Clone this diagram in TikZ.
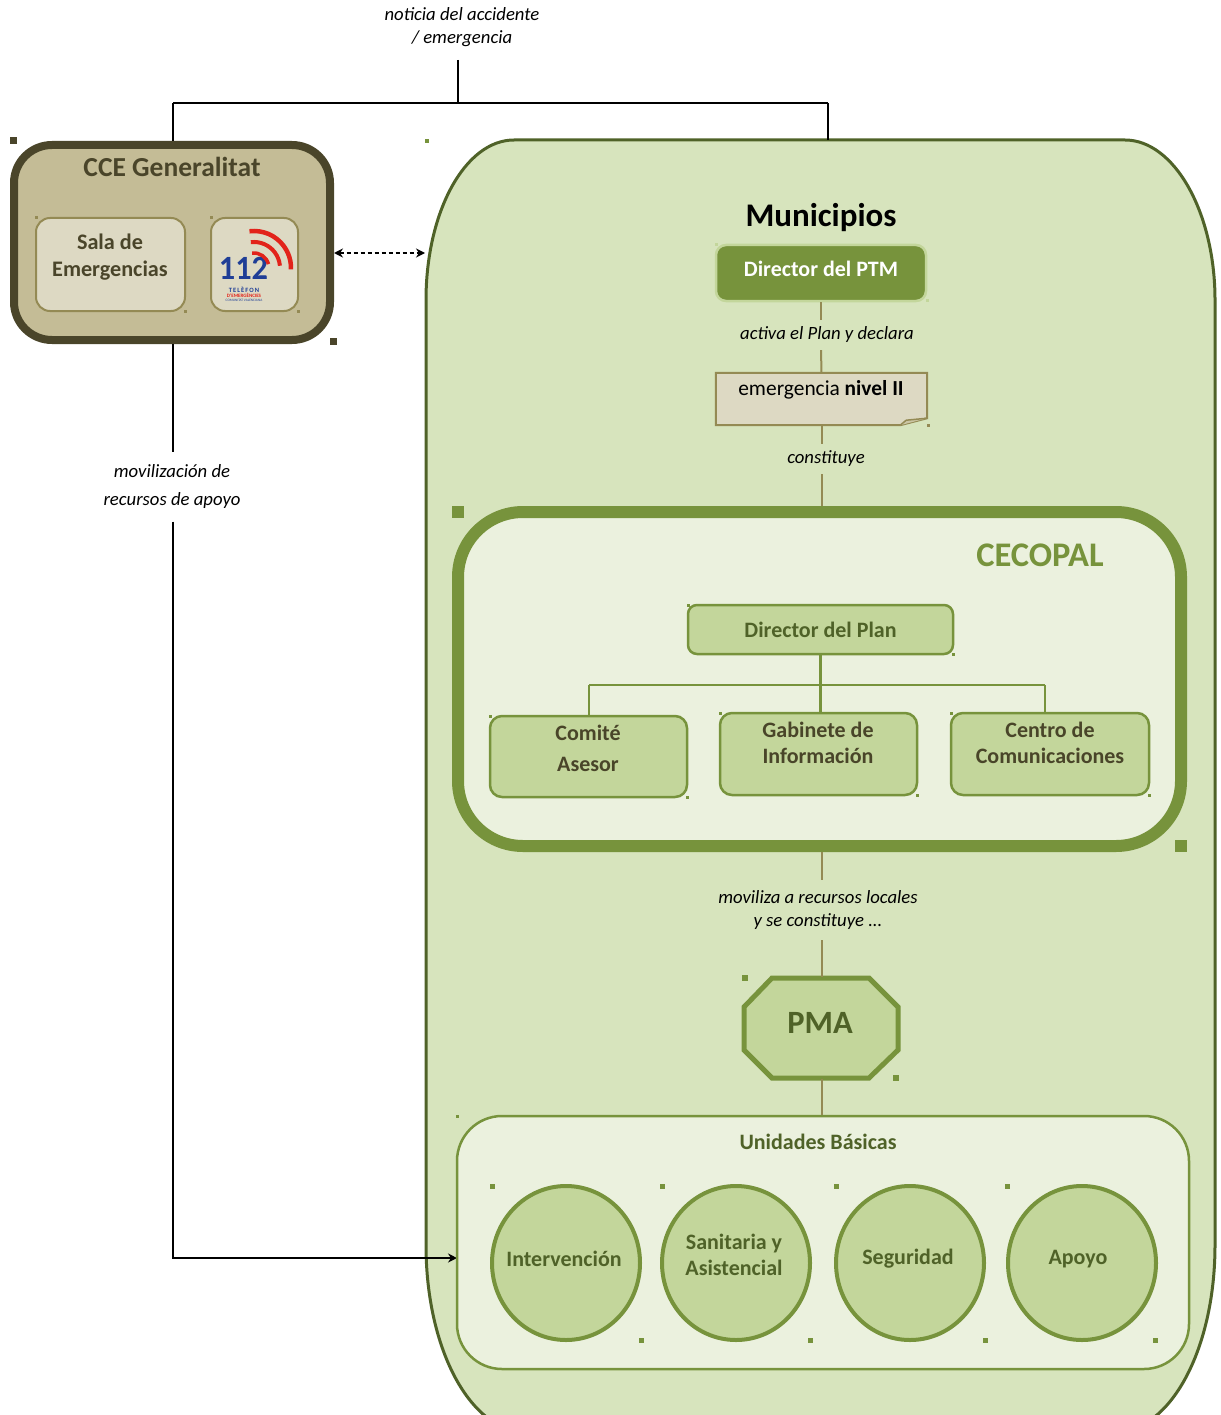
\documentclass[tikz,border=0pt]{standalone}
\usepackage{fontspec}
\setmainfont{Carlito}
\usetikzlibrary{arrows.meta,shapes.geometric}
\definecolor{cTan}{HTML}{C4BC96}
\definecolor{cDark}{HTML}{4A452A}
\definecolor{cSand}{HTML}{DDD9C3}
\definecolor{cKhaki}{HTML}{948A54}
\definecolor{cMuni}{HTML}{D7E4BD}
\definecolor{cMuniB}{HTML}{4F6228}
\definecolor{cGreen}{HTML}{77933C}
\definecolor{cLight}{HTML}{C3D69B}
\definecolor{cPale}{HTML}{EBF1DE}
\definecolor{cText}{HTML}{494529}
\definecolor{cBlue}{HTML}{1F3E96}
\definecolor{cRed}{HTML}{E2231A}
\newcommand\hnd[4]{\fill[#4] (#1,#2) ++(-0.5*#3,-0.5*#3) rectangle ++(#3,#3);}
\begin{document}
\begin{tikzpicture}[x=1pt,y=-1pt,
  lbl/.style={font=\itshape\fontsize{18.7}{23}\selectfont, align=center, inner sep=0pt, text=black},
  blackline/.style={draw=black, line width=1.8pt},
  tanline/.style={draw=cKhaki, line width=2pt},
  greenline/.style={draw=cGreen, line width=2.5pt},
  ccebox/.style={draw=cDark, fill=cTan, line width=8pt, rounded corners=38pt, minimum width=316pt, minimum height=195pt, inner sep=0pt},
  cceinner/.style={draw=cKhaki, fill=cSand, line width=2pt, rounded corners=14pt, inner sep=0pt},
  ccetext/.style={font=\bfseries\fontsize{22.2}{27}\selectfont, text=cDark, align=center, inner sep=0pt},
  orgbox/.style={draw=cGreen, fill=cLight, line width=2.5pt, rounded corners=12pt, inner sep=0pt, minimum width=197pt, minimum height=81pt},
  orgtext/.style={font=\bfseries\fontsize{22}{26}\selectfont, text=cText, align=center, inner sep=0pt},
  unit/.style={ellipse, draw=cGreen, fill=cLight, line width=4pt, minimum width=148pt, minimum height=154pt, inner sep=0pt},
  unittext/.style={font=\bfseries\fontsize{22}{26}\selectfont, text=cMuniB, align=center, inner sep=0pt},
  arr/.style={-{Stealth[length=9pt,width=9pt]}}
]
\useasboundingbox (0,0) rectangle (1220,1415);
\clip (0,0) rectangle (1220,1415);

% ---- Municipios big shape
\fill[cMuni, draw=cMuniB, line width=3pt]
  (426,300) .. controls (426,212) and (465,140) .. (514,140) -- (1125,140)
  .. controls (1174,140) and (1215,212) .. (1215,300) -- (1215,1245)
  .. controls (1215,1350) and (1170,1432) .. (1115,1432) -- (526,1432)
  .. controls (471,1432) and (426,1350) .. (426,1245) -- cycle;
\coordinate (munitop) at (828,140);
\coordinate (munileft) at (425,253);

% ---- top label and connector
\node[lbl] (noticia) at (462,27) {noticia del accidente\\/ emergencia};
\coordinate (src) at (458,60);
\coordinate (tj) at (458,103);
\coordinate (tl) at (173,103);
\coordinate (tr) at (828,103);

% ---- CCE Generalitat
\node[ccebox] (cce) at (172,242.5) {};
\node[font=\bfseries\fontsize{27.5}{30}\selectfont, text=cDark, inner sep=0pt] (ccet) at (172,167) {CCE Generalitat};
\node[cceinner, minimum width=149pt, minimum height=93pt] (sala) at (110.5,264.5) {};
\node[ccetext] (salat) at (110,257.5) {Sala de\\Emergencias};
\node[cceinner, minimum width=87pt, minimum height=93pt] (l112) at (254.5,264.5) {};
% 112 logo
\node[font=\bfseries\fontsize{34}{34}\selectfont, text=cBlue, inner sep=0pt] (n112) at (243.5,268) {\scalebox{0.95}[1]{112}};
\begin{scope}[shift={(254,268)}, y=1pt]
  \draw[cRed, line width=4.5pt] (97:37) arc[start angle=97, end angle=-2, radius=37];
  \draw[cRed, line width=4pt] (97:26) arc[start angle=97, end angle=5, radius=26];
  \draw[cRed, line width=3.5pt] (97:15) arc[start angle=97, end angle=15, radius=15];
\end{scope}
\node[font=\bfseries\fontsize{6.5}{7}\selectfont, text=cBlue, inner sep=0pt] (tel) at (244,289.5) {T\,E\,L\,È\,F\,O\,N};
\node[font=\bfseries\fontsize{5}{6}\selectfont, text=cRed, inner sep=0pt] (dem) at (244,295) {D'EMERGÈNCIES};
\node[font=\fontsize{3.5}{4}\selectfont, text=cBlue, inner sep=0pt] (cv) at (244,300) {COMUNITAT VALENCIANA};

\draw[blackline] (src) -- (tj);
\draw[blackline] (tl) -- (tr);
\draw[blackline] (tl) -- (tl |- cce.north);
\draw[blackline] (tr) -- (munitop);
\draw[black, line width=1.5pt, dash pattern=on 4pt off 3pt, {Stealth[length=9pt,width=9pt]}-{Stealth[length=9pt,width=9pt]}] (cce.east |- munileft) -- (munileft);

% ---- left connector
\node[lbl, font=\itshape\fontsize{18.7}{28}\selectfont, minimum height=69pt] (mlab) at (172,487) {movilización de\\recursos de apoyo};
\coordinate (uarr) at (457,1258);
\draw[blackline] (cce.south -| tl) -- (tl |- mlab.north);
\draw[blackline, arr] (tl |- mlab.south) |- (uarr);

% ---- Municipios content
\node[font=\bfseries\fontsize{33}{36}\selectfont, text=black, inner sep=0pt] (munt) at (821,218) {Municipios};
\node[draw=cLight, fill=cGreen, line width=2.5pt, rounded corners=10pt, minimum width=210pt, minimum height=56pt, inner sep=0pt] (ptm) at (821,273) {};
\node[font=\bfseries\fontsize{22}{24}\selectfont, text=white, inner sep=0pt] (ptmt) at (821,269) {Director del PTM};
\node[lbl, minimum height=30pt] (lab1) at (827,335) {activa el Plan y declara};
% note
\node[minimum width=211pt, minimum height=52pt, inner sep=0pt] (note) at (821.5,399) {};
\draw[cKhaki, fill=cSand, line width=2pt] (note.north west) -- (note.north east) -- ([yshift=7pt]note.south east) -- ([xshift=-27pt]note.south east) -- (note.south west) -- cycle;
\draw[cKhaki, fill=cTan!70!cSand, line width=1.5pt, line join=round] ([xshift=-27pt]note.south east) -- ([xshift=-21pt,yshift=5pt]note.south east) -- ([yshift=7pt]note.south east);
\node[font=\fontsize{21.4}{24}\selectfont, text=black, inner sep=0pt] (notet) at (821,390) {emergencia \textbf{nivel II}};
\node[lbl, minimum height=30pt] (lab2) at (826,459) {constituye};

\draw[tanline] (ptm.south) -- (ptm.south |- lab1.north);
\draw[tanline] (ptm.south |- lab1.south) -- (note.north);
\draw[tanline] (note.south) -- (note.south |- lab2.north);

% ---- CECOPAL
\node[draw=cGreen, fill=cPale, line width=12pt, rounded corners=65pt, minimum width=723pt, minimum height=334pt, inner sep=0pt] (ceco) at (819.5,679) {};
\draw[tanline] (note.south |- lab2.south) -- (note.south |- ceco.north);
\node[font=\bfseries\fontsize{34.5}{36}\selectfont, text=cGreen, inner sep=0pt] (cecot) at (1040,555) {CECOPAL};
\node[draw=cGreen, fill=cLight, line width=2.5pt, rounded corners=9pt, minimum width=265pt, minimum height=49pt, inner sep=0pt, font=\bfseries\fontsize{22}{24}\selectfont, text=cMuniB] (dplan) at (820.5,629.5) {Director del Plan};
\node[orgbox] (comite) at (588.5,756.5) {};
\node[orgbox, minimum height=82pt] (gab) at (818.5,754) {};
\node[orgbox, minimum width=198pt, minimum height=82pt] (centro) at (1050,754) {};
\node[orgtext, font=\bfseries\fontsize{22}{31}\selectfont] (comitet) at (588,748) {Comité\\Asesor};
\node[orgtext] (gabt) at (818,743) {Gabinete de\\Información};
\node[orgtext] (centrot) at (1050,743) {Centro de\\Comunicaciones};
\coordinate (hl) at (589,685);
\coordinate (hr) at (1045,685);
\draw[greenline] (dplan.south) -- (dplan.south |- gab.north);
\draw[greenline] (hl) -- (hr);
\draw[greenline] (hl) -- (hl |- comite.north);
\draw[greenline] (hr) -- (hr |- centro.north);

% ---- PMA
\node[lbl, minimum height=60pt] (lab3) at (818,910) {moviliza a recursos locales\\y se constituye ...};
\node[minimum width=155pt, minimum height=101pt, inner sep=0pt] (pma) at (821,1028) {};
\draw[cGreen, fill=cLight, line width=5pt] (772,978) -- (869,978) -- (898,1007) -- (898,1050) -- (869,1078) -- (772,1078) -- (744,1050) -- (744,1007) -- cycle;
\node[font=\bfseries\fontsize{32.5}{34}\selectfont, text=cMuniB, inner sep=0pt] (pmat) at (820,1023) {PMA};
\draw[tanline] (822,852) coordinate (c1) -- (c1 |- lab3.north);
\draw[tanline] (c1 |- lab3.south) -- (c1 |- pma.north);

% ---- Unidades Básicas
\node[draw=cGreen, fill=cPale, line width=2.5pt, rounded corners=45pt, minimum width=732pt, minimum height=253pt, inner sep=0pt] (unid) at (823,1242.5) {};
\draw[tanline] (c1 |- pma.south) -- (c1 |- unid.north);
\node[font=\bfseries\fontsize{22}{24}\selectfont, text=cMuniB, inner sep=0pt] (unidt) at (818,1142) {Unidades Básicas};
\node[unit] (u1) at (566,1263) {};
\node[unit] (u2) at (736,1263) {};
\node[unit] (u3) at (910,1263) {};
\node[unit] (u4) at (1082,1263) {};
\node[unittext] (u1t) at (564,1259) {Intervención};
\node[unittext] (u2t) at (734,1255) {Sanitaria y\\Asistencial};
\node[unittext] (u3t) at (908,1259) {Seguridad};
\node[unittext] (u4t) at (1078,1259) {Apoyo};

% ---- selection handles
\hnd{13}{141}{7}{cDark}
\hnd{333}{341}{7}{cDark}
\hnd{36}{218}{3}{cKhaki}
\hnd{185}{311}{3}{cKhaki}
\hnd{211}{218}{3}{cKhaki}
\hnd{298}{311}{3}{cKhaki}
\hnd{427}{141}{4}{cGreen}
\hnd{716}{245}{3}{cLight}
\hnd{927}{300}{3}{cLight}
\hnd{928}{425}{3}{cKhaki}
\hnd{458}{512}{12}{cGreen}
\hnd{1181}{846}{12}{cGreen}
\hnd{688}{605}{3}{cGreen}
\hnd{953}{654}{3}{cGreen}
\hnd{490}{716}{3}{cGreen}
\hnd{687}{797}{3}{cGreen}
\hnd{720}{713}{3}{cGreen}
\hnd{917}{795}{3}{cGreen}
\hnd{951}{713}{3}{cGreen}
\hnd{1149}{795}{3}{cGreen}
\hnd{745}{978}{6}{cGreen}
\hnd{896}{1078}{6}{cGreen}
\hnd{457}{1116}{3}{cGreen}
\hnd{492}{1186}{5}{cGreen}
\hnd{641}{1340}{5}{cGreen}
\hnd{662}{1186}{5}{cGreen}
\hnd{810}{1340}{5}{cGreen}
\hnd{836}{1186}{5}{cGreen}
\hnd{985}{1340}{5}{cGreen}
\hnd{1007}{1186}{5}{cGreen}
\hnd{1155}{1340}{5}{cGreen}
\end{tikzpicture}
\end{document}
